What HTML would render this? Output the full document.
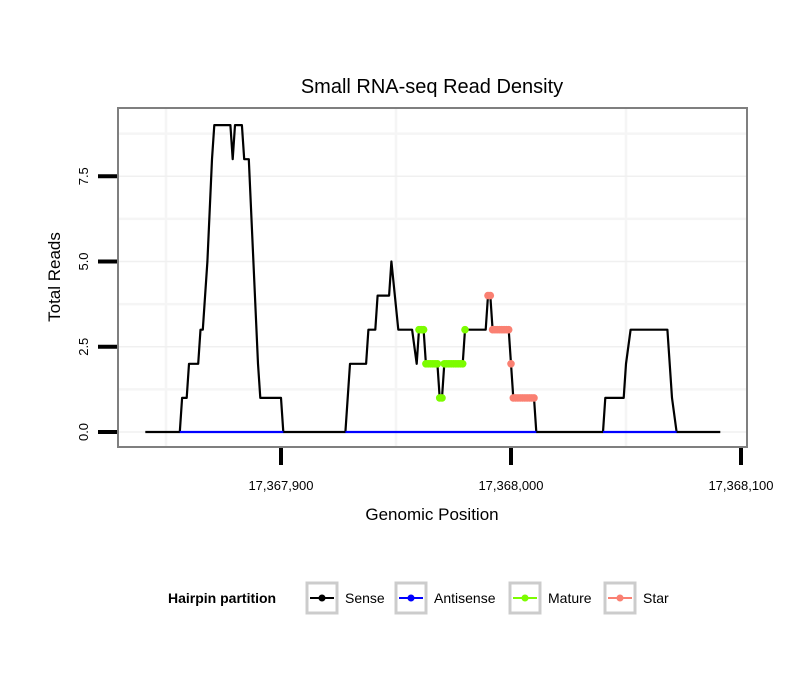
<!DOCTYPE html>
<html><head><meta charset="utf-8">
<style>
body{margin:0;background:#fff;}
svg{display:block;font-family:"Liberation Sans",Arial,sans-serif;}
</style></head>
<body>
<svg id="chart" width="810" height="690" viewBox="0 0 810 690">
<text x="432" y="93" font-size="20" text-anchor="middle">Small RNA-seq Read Density</text>
<rect x="118" y="108" width="629" height="339" fill="#fff" stroke="#7f7f7f" stroke-width="2"/>
<g id="grid"></g>
<g id="axes"></g>
<g id="series"></g>
<text x="432" y="520" font-size="17" text-anchor="middle">Genomic Position</text>
<text transform="translate(60,277) rotate(-90)" font-size="17" text-anchor="middle">Total Reads</text>
<g>
<text x="168" y="603" font-size="14" font-weight="bold">Hairpin partition</text>
<g><rect x="307" y="583" width="30" height="30" fill="#fff" stroke="#cccccc" stroke-width="3"/><line x1="310" y1="598" x2="334" y2="598" stroke="#000" stroke-width="2"/><circle cx="322" cy="598" r="3.5" fill="#000"/><text x="345" y="603" font-size="14">Sense</text></g>
<g><rect x="396" y="583" width="30" height="30" fill="#fff" stroke="#cccccc" stroke-width="3"/><line x1="399" y1="598" x2="423" y2="598" stroke="#0000ff" stroke-width="2"/><circle cx="411" cy="598" r="3.5" fill="#0000ff"/><text x="434" y="603" font-size="14">Antisense</text></g>
<g><rect x="510" y="583" width="30" height="30" fill="#fff" stroke="#cccccc" stroke-width="3"/><line x1="513" y1="598" x2="537" y2="598" stroke="#7cfc00" stroke-width="2"/><circle cx="525" cy="598" r="3.5" fill="#7cfc00"/><text x="548" y="603" font-size="14">Mature</text></g>
<g><rect x="605" y="583" width="30" height="30" fill="#fff" stroke="#cccccc" stroke-width="3"/><line x1="608" y1="598" x2="632" y2="598" stroke="#fa8072" stroke-width="2"/><circle cx="620" cy="598" r="3.5" fill="#fa8072"/><text x="643" y="603" font-size="14">Star</text></g>
</g>
</svg>
<script>
const xTicks=[17367900,17368000,17368100];
const xTickLabels=["17,367,900","17,368,000","17,368,100"];
const xMinor=[17367850,17367950,17368050];
const yTicks=[0,2.5,5,7.5];
const yTickLabels=["0.0","2.5","5.0","7.5"];
const yMinor=[1.25,3.75,6.25,8.75];
const sensePos=[17367841,17367856,17367857,17367859,17367860,17367864,17367865,17367866,17367868,17367870,17367871,17367878,17367879,17367880,17367883,17367884,17367886,17367888,17367890,17367891,17367900,17367901,17367928,17367930,17367937,17367938,17367941,17367942,17367947,17367948,17367951,17367957,17367959,17367960,17367962,17367963,17367968,17367969,17367970,17367971,17367979,17367980,17367989,17367990,17367991,17367992,17367999,17368000,17368001,17368010,17368011,17368040,17368041,17368049,17368050,17368052,17368068,17368070,17368072,17368091];
const senseVal=[0,0,1,1,2,2,3,3,5,8,9,9,8,9,9,8,8,5,2,1,1,0,0,2,2,3,3,4,4,5,3,3,2,3,3,2,2,1,1,2,2,3,3,4,4,3,3,2,1,1,0,0,1,1,2,3,3,1,0,0];
const antiStart=[17367856,17367928,17368040];
const antiEnd=[17367901,17368011,17368072];
const maturePos=[17367960,17367961,17367962,17367963,17367964,17367965,17367966,17367967,17367968,17367969,17367970,17367971,17367972,17367973,17367974,17367975,17367976,17367977,17367978,17367979,17367980];
const matureVal=[3,3,3,2,2,2,2,2,2,1,1,2,2,2,2,2,2,2,2,2,3];
const starPos=[17367990,17367991,17367992,17367993,17367994,17367995,17367996,17367997,17367998,17367999,17368000,17368001,17368002,17368003,17368004,17368005,17368006,17368007,17368008,17368009,17368010];
const starVal=[4,4,3,3,3,3,3,3,3,3,2,1,1,1,1,1,1,1,1,1,1];

const X=v=>281+(v-17367900)*2.3;
const Y=v=>432-v*34.1;
const NS="http://www.w3.org/2000/svg";
function mk(parent,tag,attrs){const e=document.createElementNS(NS,tag);for(const k in attrs)e.setAttribute(k,attrs[k]);document.getElementById(parent).appendChild(e);return e;}

xMinor.forEach(v=>{const e=mk('grid','line',{x1:X(v),x2:X(v),y1:109,y2:446,stroke:'#f5f5f5','stroke-width':2.5});

});
yMinor.forEach(v=>{const e=mk('grid','line',{x1:119,x2:746,y1:Y(v),y2:Y(v),stroke:'#f5f5f5','stroke-width':2.5});

});
yTicks.forEach((v,i)=>{
 const g=mk('grid','line',{x1:119,x2:746,y1:Y(v),y2:Y(v),stroke:'#f0f0f0','stroke-width':1.5});
 
 
 const t=mk('axes','line',{x1:98,x2:117,y1:Y(v),y2:Y(v),stroke:'#000','stroke-width':4});
 
 
 const l=mk('axes','text',{transform:`translate(${88},${Y(v)}) rotate(-90)`,'font-size':13,'text-anchor':'middle'});
 l.textContent=yTickLabels[i];
 
 
});
xTicks.forEach((v,i)=>{
 const t=mk('axes','line',{x1:X(v),x2:X(v),y1:448,y2:465,stroke:'#000','stroke-width':4});
 
 
 const l=mk('axes','text',{x:X(v),y:490,'font-size':13,'text-anchor':'middle'});
 l.textContent=xTickLabels[i];
 
 
});
const pl=mk('series','polyline',{points:sensePos.map((p,i)=>X(p)+','+Y(senseVal[i])).join(' '),fill:'none',stroke:'#000','stroke-width':2.2,'stroke-linejoin':'round'});


antiStart.forEach((s,i)=>{const e=mk('series','line',{x1:X(s),x2:X(antiEnd[i]),y1:Y(0),y2:Y(0),stroke:'#0000ff','stroke-width':2.2});

});
maturePos.forEach((p,i)=>{const c=mk('series','circle',{cx:X(p),cy:Y(matureVal[i]),r:3.8,fill:'#7cfc00'});

});
starPos.forEach((p,i)=>{const c=mk('series','circle',{cx:X(p),cy:Y(starVal[i]),r:3.8,fill:'#fa8072'});

});
</script>
</body></html>
